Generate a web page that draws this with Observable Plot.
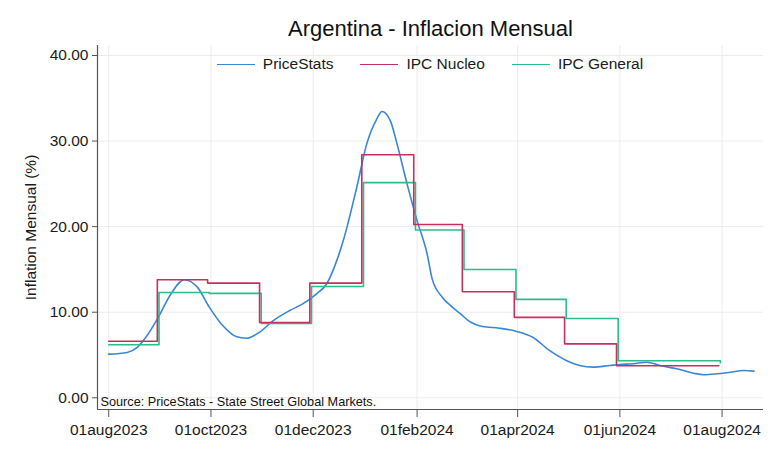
<!DOCTYPE html>
<html>
<head>
<meta charset="utf-8">
<script src="https://cdn.jsdelivr.net/npm/d3@7"></script>
<script src="https://cdn.jsdelivr.net/npm/@observablehq/plot@0.6"></script>
<style>
  body { margin: 0; background: #fff; font-family: "Liberation Sans", Arial, sans-serif; }
  #wrap { position: relative; width: 780px; height: 459px; }
  #legend { position: absolute; left: 97px; width: 666px; top: 55px; display: flex; justify-content: center; gap: 27px; font-size: 15.5px; color: #1a1a1a; }
  .item { display: flex; align-items: center; gap: 8px; }
  .sw { width: 38px; height: 0; border-top: 1.6px solid; }
</style>
</head>
<body>
<div id="wrap"><div id="legend"></div></div>
<script>
// ---- text ----
const title = "Argentina - Inflacion Mensual";
const yLabel = "Inflation Mensual (%)";
const note = "Source: PriceStats - State Street Global Markets.";

// ---- series ----
const seriesNames = ["PriceStats", "IPC Nucleo", "IPC General"];
const seriesColors = ["#3a87d6", "#c6305d", "#2dbd89"];

const priceStatsDates = [
  "2023-08-01","2023-08-12","2023-08-18","2023-08-24","2023-08-30","2023-09-07","2023-09-15","2023-09-23",
  "2023-09-30","2023-10-08","2023-10-16","2023-10-22","2023-10-30","2023-11-07","2023-11-17","2023-11-25",
  "2023-12-03","2023-12-09","2023-12-15","2023-12-19","2023-12-27","2024-01-02","2024-01-08","2024-01-11",
  "2024-01-16","2024-01-20","2024-01-26","2024-02-01","2024-02-07","2024-02-10","2024-02-16","2024-02-22",
  "2024-02-27","2024-03-03","2024-03-11","2024-03-21","2024-03-31","2024-04-10","2024-04-20","2024-04-30",
  "2024-05-08","2024-05-16","2024-05-26","2024-06-01","2024-06-09","2024-06-17","2024-06-25","2024-07-05",
  "2024-07-15","2024-07-21","2024-07-29","2024-08-06","2024-08-14","2024-08-20"
];
const priceStatsValues = [
  5.1, 5.3, 5.9, 7.3, 9.2, 12.1, 13.8, 12.9,
  10.6, 8.45, 7.16, 6.96, 7.66, 9.0, 10.2, 11.0,
  12.15, 13.3, 16.0, 18.4, 24.6, 29.7, 32.6, 33.45,
  32.4, 29.7, 25.0, 20.7, 16.8, 13.9, 11.75, 10.6,
  9.8, 8.95, 8.33, 8.13, 7.78, 7.08, 5.53, 4.36,
  3.77, 3.58, 3.77, 3.89, 3.97, 4.16, 3.77, 3.39,
  2.87, 2.69, 2.80, 2.99, 3.19, 3.11
];

const nucleoDates = [
  "2023-08-01","2023-08-30","2023-09-29","2023-10-30","2023-11-29","2023-12-30",
  "2024-01-30","2024-02-28","2024-03-30","2024-04-29","2024-05-30","2024-07-30"
];
const nucleoValues = [6.6, 13.8, 13.4, 8.8, 13.4, 28.4, 20.25, 12.4, 9.4, 6.3, 3.74, 3.74];

const generalDates = [
  "2023-08-01","2023-08-31","2023-09-30","2023-10-31","2023-11-30","2023-12-31",
  "2024-01-31","2024-02-29","2024-03-31","2024-04-30","2024-05-31","2024-07-31"
];
const generalValues = [6.2, 12.3, 12.2, 8.7, 13.0, 25.15, 19.6, 15.0, 11.5, 9.26, 4.32, 4.1];

// ---- axes ----
const yTicks = [0, 10, 20, 30, 40];
const yDomain = [-1.37, 41.17];
const xTickLabels = ["2023-08-01","2023-10-01","2023-12-01","2024-02-01","2024-04-01","2024-06-01","2024-08-01"];
const xDomainLabels = ["2023-07-25T07:00Z", "2024-08-25T17:00Z"];

const parse = (s) => new Date(s.length === 10 ? s + "T00:00Z" : s);
const toRows = (dates, values) => dates.map((d, i) => ({date: parse(d), value: values[i]}));
const priceStats = toRows(priceStatsDates, priceStatsValues);
const nucleo = toRows(nucleoDates, nucleoValues);
const general = toRows(generalDates, generalValues);
const xTicks = xTickLabels.map(parse);
const xDomain = xDomainLabels.map(parse);
const fmtDate = (d) => d3.utcFormat("%d%b%Y")(d).toLowerCase();

const chart = Plot.plot({
  width: 780,
  height: 459,
  marginLeft: 97,
  marginRight: 17,
  marginTop: 45,
  marginBottom: 50,
  style: {fontFamily: '"Liberation Sans", Arial, sans-serif', fontSize: "15.5px", color: "#1a1a1a", background: "#fff"},
  x: {type: "utc", domain: xDomain},
  y: {domain: yDomain},
  marks: [
    Plot.gridY(yTicks, {stroke: "#ececec", strokeOpacity: 1}),
    Plot.gridX(xTicks, {stroke: "#ececec", strokeOpacity: 1}),
    Plot.ruleX([xDomain[0]], {stroke: "#555", strokeWidth: 1.2}),
    Plot.ruleY([yDomain[0]], {stroke: "#555", strokeWidth: 1.2}),
    Plot.axisY(yTicks, {
      tickFormat: d3.format(".2f"), tickSize: 5, tickPadding: 4, stroke: "#555",
      label: yLabel, labelAnchor: "center", labelOffset: 73, labelArrow: "none"
    }),
    Plot.axisX(xTicks, {tickFormat: fmtDate, tickSize: 8, tickPadding: 6, stroke: "#555", label: null}),
    Plot.line(priceStats, {x: "date", y: "value", stroke: seriesColors[0], strokeWidth: 1.6, curve: "monotone-x"}),
    Plot.line(general, {x: "date", y: "value", stroke: seriesColors[2], strokeWidth: 1.6, curve: "step-after"}),
    Plot.line(nucleo, {x: "date", y: "value", stroke: seriesColors[1], strokeWidth: 1.6, curve: "step-after"}),
    Plot.text([title], {frameAnchor: "top", dy: -17, lineAnchor: "middle", fontSize: 22, fill: "#111"}),
    Plot.text([note], {frameAnchor: "bottom-left", dx: 3, dy: -4, lineAnchor: "bottom", textAnchor: "start", fontSize: 12.7, fill: "#111"})
  ]
});
const wrap = document.getElementById("wrap");
wrap.insertBefore(chart, wrap.firstChild);

const legend = document.getElementById("legend");
seriesNames.forEach((name, i) => {
  const item = document.createElement("div");
  item.className = "item";
  const sw = document.createElement("span");
  sw.className = "sw";
  sw.style.borderTopColor = seriesColors[i];
  const t = document.createElement("span");
  t.textContent = name;
  item.appendChild(sw);
  item.appendChild(t);
  legend.appendChild(item);
});
</script>
</body>
</html>
